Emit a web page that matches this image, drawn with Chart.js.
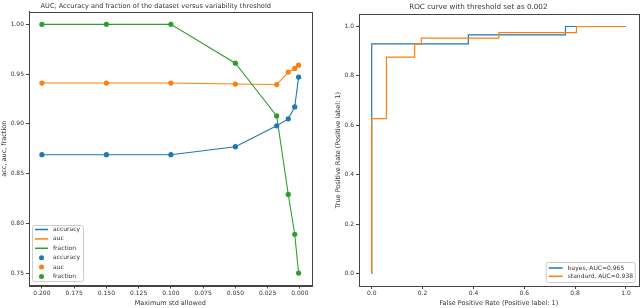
<!DOCTYPE html>
<html lang="en">
<head>
<meta charset="utf-8">
<script src="https://cdn.jsdelivr.net/npm/chart.js"></script>
<style>
  body { margin: 0; background: #fff; }
  .wrap { position: absolute; top: 0; }
</style>
</head>
<body>
<div class="wrap" style="left:0"><canvas id="left" width="318" height="308"></canvas></div>
<div class="wrap" style="left:318px"><canvas id="right" width="322" height="308"></canvas></div>
<script>
// left panel: metrics vs std threshold
const thresholds = [0.2, 0.15, 0.1, 0.05, 0.018, 0.009, 0.004, 0.001];
const accuracy = [0.869, 0.869, 0.869, 0.877, 0.898, 0.905, 0.917, 0.947];
const auc = [0.941, 0.941, 0.941, 0.940, 0.9395, 0.952, 0.9557, 0.959];
const fraction = [1.0, 1.0, 1.0, 0.961, 0.908, 0.829, 0.789, 0.750];
const leftXTicks = [0.2, 0.175, 0.15, 0.125, 0.1, 0.075, 0.05, 0.025, 0.0];
const leftYTicks = [0.75, 0.80, 0.85, 0.90, 0.95, 1.00];

// right panel: ROC curves
const bayesFpr = [0, 0, 0.38, 0.38, 0.762, 0.762, 1.0];
const bayesTpr = [0, 0.93, 0.93, 0.966, 0.966, 1.0, 1.0];
const standardFpr = [0, 0, 0.058, 0.058, 0.169, 0.169, 0.195, 0.195, 0.5, 0.5, 0.805, 0.805, 1.0];
const standardTpr = [0, 0.627, 0.627, 0.876, 0.876, 0.929, 0.929, 0.953, 0.953, 0.975, 0.975, 1.0, 1.0];
const rocTicks = [0, 0.2, 0.4, 0.6, 0.8, 1.0];

const BLUE = '#1f77b4', ORANGE = '#ff7f0e', GREEN = '#2ca02c';
const FONT = 'DejaVu Sans';
const TXT = '#333';

Chart.defaults.font.family = FONT;
Chart.defaults.color = TXT;
Chart.defaults.animation = false;

const pts = (xs, ys) => xs.map((x, i) => ({ x: x, y: ys[i] }));

// axes frame + inside legend
const framePlugin = {
  id: 'frame',
  afterDraw(chart, args, opts) {
    const a = chart.chartArea, ctx = chart.ctx;
    ctx.save();
    ctx.strokeStyle = '#444';
    ctx.lineWidth = 1;
    ctx.strokeRect(Math.round(a.left) + 0.5, Math.round(a.top) + 0.5,
      Math.round(a.right - a.left), Math.round(a.bottom - a.top));
    const lg = opts.legend;
    if (lg) {
      const bx = lg.right != null ? a.right - lg.right - lg.w : a.left + lg.left;
      const by = a.bottom - lg.bottom - lg.h;
      ctx.fillStyle = 'rgba(255,255,255,0.85)';
      ctx.strokeStyle = '#ccc';
      ctx.beginPath();
      ctx.roundRect(bx + 0.5, by + 0.5, lg.w, lg.h, 2);
      ctx.fill();
      ctx.stroke();
      ctx.font = lg.font + 'px ' + FONT;
      ctx.textBaseline = 'middle';
      lg.items.forEach((it, i) => {
        const y = by + lg.first + i * lg.step;
        if (it.type === 'line') {
          ctx.strokeStyle = it.color;
          ctx.lineWidth = 1.5;
          ctx.beginPath();
          ctx.moveTo(bx + 3, y);
          ctx.lineTo(bx + 3 + lg.handle, y);
          ctx.stroke();
        } else {
          ctx.fillStyle = it.color;
          ctx.beginPath();
          ctx.arc(bx + 3 + lg.handle / 2, y, 2.5, 0, Math.PI * 2);
          ctx.fill();
        }
        ctx.fillStyle = TXT;
        ctx.fillText(it.text, bx + lg.handle + 8, y);
      });
    }
    ctx.restore();
  }
};

function axis(opts) {
  return Object.assign({
    type: 'linear',
    grid: { drawOnChartArea: false, tickLength: 3, color: '#444' },
    border: { color: '#444' },
    ticks: { font: { size: 6 }, padding: 1, color: TXT }
  }, opts);
}

new Chart(document.getElementById('left'), {
  type: 'line',
  data: {
    datasets: [
      { label: 'accuracy', data: pts(thresholds, accuracy), borderColor: BLUE, borderWidth: 1.1, pointRadius: 0, order: 6 },
      { label: 'auc', data: pts(thresholds, auc), borderColor: ORANGE, borderWidth: 1.1, pointRadius: 0, order: 5 },
      { label: 'fraction', data: pts(thresholds, fraction), borderColor: GREEN, borderWidth: 1.1, pointRadius: 0, order: 4 },
      { label: 'accuracy', data: pts(thresholds, accuracy), showLine: false, pointRadius: 2.6, pointBackgroundColor: BLUE, pointBorderWidth: 0, order: 3 },
      { label: 'auc', data: pts(thresholds, auc), showLine: false, pointRadius: 2.6, pointBackgroundColor: ORANGE, pointBorderWidth: 0, order: 2 },
      { label: 'fraction', data: pts(thresholds, fraction), showLine: false, pointRadius: 2.6, pointBackgroundColor: GREEN, pointBorderWidth: 0, order: 1 }
    ]
  },
  options: {
    responsive: false,
    layout: { padding: { top: 0, right: 6.5, left: 0, bottom: 0 } },
    plugins: {
      legend: { display: false },
      tooltip: { enabled: false },
      title: { display: true, text: 'AUC, Accuracy and fraction of the dataset versus variability threshold',
        font: { size: 6.6, weight: 'normal' }, color: TXT, padding: { top: 2, bottom: 2 } },
      frame: { legend: { left: 3, bottom: 4.5, w: 51, h: 56, first: 4.5, step: 9.4, handle: 13, font: 6,
        items: [
          { type: 'line', color: BLUE, text: 'accuracy' },
          { type: 'line', color: ORANGE, text: 'auc' },
          { type: 'line', color: GREEN, text: 'fraction' },
          { type: 'dot', color: BLUE, text: 'accuracy' },
          { type: 'dot', color: ORANGE, text: 'auc' },
          { type: 'dot', color: GREEN, text: 'fraction' }
        ] } }
    },
    scales: {
      x: axis({
        min: -0.009, max: 0.21, reverse: true,
        afterBuildTicks: s => { s.ticks = leftXTicks.map(v => ({ value: v })); },
        afterFit: s => { s.height = 22.5; },
        ticks: { font: { size: 6 }, padding: 1, color: TXT, maxRotation: 0, callback: v => v.toFixed(3) },
        title: { display: true, text: 'Maximum std allowed', font: { size: 6.5 }, color: TXT, padding: { top: 0, bottom: 1 } }
      }),
      y: axis({
        min: 0.7375, max: 1.0125,
        afterBuildTicks: s => { s.ticks = leftYTicks.map(v => ({ value: v })); },
        afterFit: s => { s.width = 29; },
        ticks: { font: { size: 6 }, padding: 2, color: TXT, callback: v => v.toFixed(2) },
        title: { display: true, text: 'acc, auc, fraction', font: { size: 6.5 }, color: TXT, padding: { top: 0, bottom: 0 } }
      })
    }
  },
  plugins: [framePlugin]
});

new Chart(document.getElementById('right'), {
  type: 'line',
  data: {
    datasets: [
      { label: 'bayes, AUC=0.965', data: pts(bayesFpr, bayesTpr), borderColor: BLUE, borderWidth: 1.2, pointRadius: 0, order: 2 },
      { label: 'standard, AUC=0.938', data: pts(standardFpr, standardTpr), borderColor: ORANGE, borderWidth: 1.2, pointRadius: 0, order: 1 }
    ]
  },
  options: {
    responsive: false,
    layout: { padding: { top: 0, right: 1.3, left: 0, bottom: 0 } },
    plugins: {
      legend: { display: false },
      tooltip: { enabled: false },
      title: { display: true, text: 'ROC curve with threshold set as 0.002',
        font: { size: 7.2, weight: 'normal' }, color: TXT, padding: { top: 3, bottom: 2.5 } },
      frame: { legend: { right: 4, bottom: 4, w: 89, h: 20, first: 6, step: 8.3, handle: 14, font: 6,
        items: [
          { type: 'line', color: BLUE, text: 'bayes, AUC=0.965' },
          { type: 'line', color: ORANGE, text: 'standard, AUC=0.938' }
        ] } }
    },
    scales: {
      x: axis({
        min: -0.05, max: 1.05,
        afterBuildTicks: s => { s.ticks = rocTicks.map(v => ({ value: v })); },
        afterFit: s => { s.height = 22; },
        ticks: { font: { size: 6 }, padding: 1, color: TXT, maxRotation: 0, callback: v => v.toFixed(1) },
        title: { display: true, text: 'False Positive Rate (Positive label: 1)', font: { size: 6.5 }, color: TXT, padding: { top: 0, bottom: 1 } }
      }),
      y: axis({
        min: -0.05, max: 1.05,
        afterBuildTicks: s => { s.ticks = rocTicks.map(v => ({ value: v })); },
        afterFit: s => { s.width = 41; },
        ticks: { font: { size: 6 }, padding: 2, color: TXT, callback: v => v.toFixed(1) },
        title: { display: true, text: 'True Positive Rate (Positive label: 1)', font: { size: 6.5 }, color: TXT, padding: { top: 16, bottom: 0 } }
      })
    }
  },
  plugins: [framePlugin]
});
</script>
</body>
</html>
